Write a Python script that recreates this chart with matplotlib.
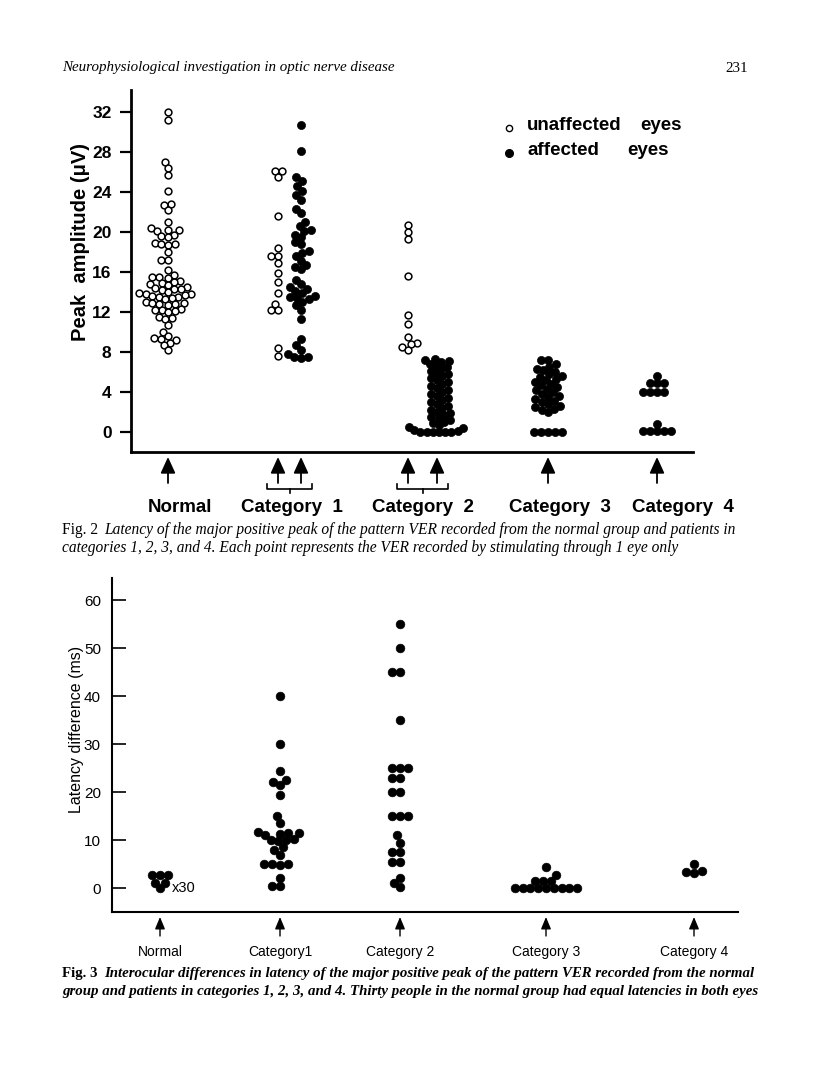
import numpy as np
import matplotlib
matplotlib.use("Agg")
import matplotlib.pyplot as plt
from matplotlib import transforms
from matplotlib.lines import Line2D

# ---------------- data ----------------
# Fig. 2 : peak amplitude (uV)
normal_unaff = [32.0, 31.2, 27.0, 26.4, 25.7, 24.1, 22.8, 22.7, 22.2, 21.0,
                20.4, 20.2, 20.1, 20.2, 19.7, 19.6, 19.5, 18.9, 18.8, 18.8,
                18.7, 18.0, 17.2, 17.2, 16.2, 15.7, 15.5, 15.5, 15.4, 15.1,
                15.0, 14.9, 14.8, 14.7, 14.5, 14.4, 14.3, 14.3, 14.2, 14.0,
                13.9, 13.8, 13.8, 13.7, 13.6, 13.5, 13.5, 13.4, 13.3, 13.0,
                12.9, 12.9, 12.8, 12.8, 12.7, 12.3, 12.2, 12.2, 12.1, 12.0,
                11.5, 11.4, 11.3, 10.7, 10.0, 9.6, 9.4, 9.3, 9.2, 8.9, 8.7, 8.2]
cat1_unaff = [26.1, 26.1, 25.5, 21.6, 18.4, 17.6, 17.6, 16.9, 15.9, 15.0,
              13.9, 12.8, 12.2, 12.2, 8.4, 7.6]
cat1_aff = [30.7, 28.1, 25.5, 25.1, 24.6, 24.1, 23.7, 23.2, 22.3, 21.9,
            21.0, 20.6, 20.2, 20.1, 19.7, 19.5, 19.0, 18.8, 18.1, 17.9,
            17.6, 17.1, 16.7, 16.5, 16.3, 15.2, 14.8, 14.5, 14.3, 14.1,
            13.9, 13.6, 13.5, 13.4, 13.3, 13.0, 12.7, 12.2, 11.3, 9.3,
            8.7, 8.2, 7.8, 7.5, 7.4, 7.5]
cat2_unaff = [20.7, 20.0, 19.3, 15.6, 11.7, 10.8, 9.5, 8.9, 8.8, 8.5, 8.2]
cat2_aff = [7.3, 7.2, 7.1, 7.0, 6.8, 6.6, 6.5, 6.3, 6.1, 5.9, 5.8, 5.6, 5.4,
            5.2, 5.0, 4.8, 4.6, 4.4, 4.2, 4.0, 3.8, 3.6, 3.4, 3.2, 3.0, 2.8,
            2.6, 2.4, 2.2, 2.0, 1.9, 1.7, 1.5, 1.4, 1.2, 1.0, 0.9, 0.7, 0.5,
            0.4, 0.2, 0.1, 0.0, 0.0, 0.0, 0.0, 0.0, 0.0]
cat3_aff = [7.2, 7.2, 6.8, 6.5, 6.3, 6.2, 6.0, 5.8, 5.6, 5.5, 5.3, 5.2, 5.0,
            4.8, 4.7, 4.5, 4.3, 4.2, 4.0, 3.8, 3.6, 3.5, 3.3, 3.1, 3.0, 2.8,
            2.6, 2.5, 2.3, 2.2, 2.0, 0.0, 0.0, 0.0, 0.0, 0.0]
cat4_aff = [5.6, 4.9, 4.9, 4.9, 4.0, 4.0, 4.0, 4.0, 0.8, 0.1, 0.1, 0.1, 0.1, 0.1]

amp_ticks = [0, 4, 8, 12, 16, 20, 24, 28, 32]
group_labels_top = ["Normal", "Category  1", "Category  2", "Category  3", "Category  4"]

# Fig. 3 : interocular latency difference (ms)
lat_normal = [2.8, 2.8, 2.8, 1.2, 1.2, 0.0]
lat_cat1 = [40, 30, 24.5, 22.5, 22.2, 21.6, 19.5, 15.0, 13.5, 11.8, 11.6,
            11.5, 11.4, 11.2, 10.3, 10.0, 10.0, 9.8, 8.5, 8.0, 7.0, 5.0, 5.0,
            5.0, 4.8, 2.2, 0.5, 0.5]
lat_cat2 = [55, 50, 45, 45, 35, 25, 25, 25, 23, 23, 20, 20, 15, 15, 15, 11,
            9.5, 7.5, 7.5, 5.5, 5.5, 2.2, 1.2, 0.2]
lat_cat3 = [4.5, 2.8, 1.6, 1.6, 1.5, 0, 0, 0, 0, 0, 0, 0, 0, 0]
lat_cat4 = [5.0, 3.6, 3.3, 3.2]
lat_ticks = [0, 10, 20, 30, 40, 50, 60]
group_labels_bot = ["Normal", "Category1", "Category 2", "Category 3", "Category 4"]

# ---------------- layout helpers ----------------
W, H = 816, 1091
fig = plt.figure(figsize=(W / 100, H / 100), dpi=100)


def fx(px):
    return px / W


def fy(py):
    return 1 - py / H


def swarm(values, px_per_unit, diam, overlap=0.92):
    ys = np.asarray(values, float) * px_per_unit
    order = np.argsort(ys, kind="stable")
    placed = []
    offs = np.zeros(len(ys))
    D = diam * overlap
    for i in order:
        y = ys[i]
        near = [(px, py) for px, py in placed if abs(py - y) < D]
        cands = [0.0]
        for px, py in near:
            dx = np.sqrt(max(D * D - (py - y) ** 2, 0))
            cands += [px + dx, px - dx]
        cands = sorted(cands, key=lambda c: (abs(c), c))
        chosen = cands[-1]
        for c in cands:
            if all((c - px) ** 2 + (y - py) ** 2 >= D * D - 1e-6 for px, py in near):
                chosen = c
                break
        offs[i] = chosen
        placed.append((chosen, y))
    return offs


sans = ["Liberation Sans", "DejaVu Sans"]
serif = ["Liberation Serif", "DejaVu Serif"]

# header
fig.text(fx(62), fy(68), "Neurophysiological investigation in optic nerve disease",
         family=serif, style="italic", fontsize=10.8, va="center", ha="left")
fig.text(fx(748), fy(68), "231", family=serif, fontsize=10.8, va="center", ha="right")

# ================= Fig. 2 =================
L1, R1, T1, B1 = 131, 693, 90, 452
ax1 = fig.add_axes([fx(L1), fy(B1), fx(R1) - fx(L1), fy(T1) - fy(B1)])
ymin1, ymax1 = -1.97, 34.23
ax1.set_xlim(0, R1 - L1)
ax1.set_ylim(ymin1, ymax1)
ppu1 = (B1 - T1) / (ymax1 - ymin1)

top_groups = [
    (normal_unaff, 37, "open", 0.92),
    (cat1_unaff, 147, "open", 0.92),
    (cat1_aff, 170, "filled", 0.85),
    (cat2_unaff, 277, "open", 0.92),
    (cat2_aff, 308, "filled", 0.78),
    (cat3_aff, 417, "filled", 0.85),
    (cat4_aff, 526, "filled", 0.85),
]
for vals, xc, kind, ov in top_groups:
    if kind == "open":
        offs = swarm(vals, ppu1, 7.2, overlap=ov)
        ax1.scatter(xc + offs, vals, s=24, facecolor="white", edgecolor="black",
                    linewidths=1.1, zorder=3, clip_on=False)
    else:
        offs = swarm(vals, ppu1, 8.0, overlap=ov)
        ax1.scatter(xc + offs, vals, s=34, facecolor="black", edgecolor="black",
                    linewidths=0.5, zorder=3, clip_on=False)

ax1.set_yticks(amp_ticks)
ax1.set_yticklabels([str(t) for t in amp_ticks], family=sans, fontweight="bold", fontsize=12.5)
ax1.set_xticks([])
ax1.tick_params(axis="y", direction="out", length=8, width=1.6, pad=6)
for s in ["top", "right"]:
    ax1.spines[s].set_visible(False)
for s in ["left", "bottom"]:
    ax1.spines[s].set_linewidth(2.0)
fig.text(fx(80), fy(242), "Peak  amplitude (μV)", rotation=90, family=sans,
         fontweight="bold", fontsize=14.5, ha="center", va="center")

# legend
fig.add_artist(Line2D([fx(509)], [fy(128)], marker="o", markersize=4.5, mfc="white",
                      mec="black", mew=1.0, ls="none"))
fig.add_artist(Line2D([fx(509)], [fy(153)], marker="o", markersize=5.5, mfc="black",
                      mec="black", ls="none"))
fig.text(fx(527), fy(126), "unaffected", family=sans, fontweight="bold", fontsize=13.5,
         ha="left", va="center")
fig.text(fx(640), fy(126), "eyes", family=sans, fontweight="bold", fontsize=13.5,
         ha="left", va="center")
fig.text(fx(527), fy(150), "affected", family=sans, fontweight="bold", fontsize=13.5,
         ha="left", va="center")
fig.text(fx(627), fy(150), "eyes", family=sans, fontweight="bold", fontsize=13.5,
         ha="left", va="center")

# arrows below axis
tr1 = transforms.blended_transform_factory(ax1.transData, fig.transFigure)
arrow_x_top = [37, 147, 170, 277, 306, 417, 526]
for xc in arrow_x_top:
    ax1.annotate("", xy=(xc, fy(457)), xytext=(xc, fy(483)), xycoords=tr1, textcoords=tr1,
                 arrowprops=dict(arrowstyle="-|>,head_length=0.7,head_width=0.32",
                                 lw=1.3, color="black", shrinkA=0, shrinkB=0,
                                 mutation_scale=14), annotation_clip=False)
for xa, xb in [(147, 170), (277, 306)]:
    x0, x1 = xa - 11, xb + 11
    xm = (x0 + x1) / 2
    ax1.add_line(Line2D([x0, x0, x1, x1], [fy(484), fy(489), fy(489), fy(484)],
                        transform=tr1, color="black", lw=1.2, clip_on=False))
    ax1.add_line(Line2D([xm, xm], [fy(489), fy(493)], transform=tr1, color="black",
                        lw=1.2, clip_on=False))

for lab, px in zip(group_labels_top, [180, 292, 423, 560, 683]):
    fig.text(fx(px), fy(507), lab, family=sans, fontweight="bold", fontsize=13.5,
             ha="center", va="center")

# caption fig 2
fig.text(fx(62), fy(530), "Fig. 2", family=serif, fontsize=11.2, ha="left", va="center")
fig.text(fx(104), fy(530),
         "Latency of the major positive peak of the pattern VER recorded from the normal group and patients in",
         family=serif, style="italic", fontsize=11.2, ha="left", va="center")
fig.text(fx(62), fy(548),
         "categories 1, 2, 3, and 4. Each point represents the VER recorded by stimulating through 1 eye only",
         family=serif, style="italic", fontsize=11.2, ha="left", va="center")

# ================= Fig. 3 =================
L2, R2, T2, B2 = 112, 738, 578, 912
ax2 = fig.add_axes([fx(L2), fy(B2), fx(R2) - fx(L2), fy(T2) - fy(B2)])
ymin2, ymax2 = -4.93, 64.6
ax2.set_xlim(0, R2 - L2)
ax2.set_ylim(ymin2, ymax2)
ppu2 = (B2 - T2) / (ymax2 - ymin2)

bot_groups = [(lat_normal, 48), (lat_cat1, 168), (lat_cat2, 288), (lat_cat3, 434),
              (lat_cat4, 582)]
for vals, xc in bot_groups:
    offs = swarm(vals, ppu2, 8.2, overlap=0.95)
    ax2.scatter(xc + offs, vals, s=40, facecolor="black", edgecolor="black",
                linewidths=0.4, zorder=3, clip_on=False)
ax2.text(60, 0, "x30", family=sans, fontsize=10.5, ha="left", va="center")

ax2.set_yticks(lat_ticks)
ax2.set_yticklabels([str(t) for t in lat_ticks], family=sans, fontsize=11)
ax2.set_xticks([])
ax2.tick_params(axis="y", direction="in", length=10, width=1.2, pad=8)
for s in ["top", "right"]:
    ax2.spines[s].set_visible(False)
for s in ["left", "bottom"]:
    ax2.spines[s].set_linewidth(1.5)
fig.text(fx(77), fy(729), "Latency difference (ms)", rotation=90, family=sans,
         fontsize=11.5, ha="center", va="center")

tr2 = transforms.blended_transform_factory(ax2.transData, fig.transFigure)
for _, xc in bot_groups:
    ax2.annotate("", xy=(xc, fy(917)), xytext=(xc, fy(936)), xycoords=tr2, textcoords=tr2,
                 arrowprops=dict(arrowstyle="-|>,head_length=0.6,head_width=0.25",
                                 lw=1.0, color="black", shrinkA=0, shrinkB=0,
                                 mutation_scale=12), annotation_clip=False)
for lab, (_, xc) in zip(group_labels_bot, bot_groups):
    ax2.text(xc, fy(952), lab, transform=tr2, family=sans, fontsize=10,
             ha="center", va="center")

fig.text(fx(62), fy(973), "Fig. 3", family=serif, fontweight="bold", fontsize=10.7,
         ha="left", va="center")
fig.text(fx(104), fy(973),
         "Interocular differences in latency of the major positive peak of the pattern VER recorded from the normal",
         family=serif, style="italic", fontweight="bold", fontsize=10.7, ha="left", va="center")
fig.text(fx(62), fy(991),
         "group and patients in categories 1, 2, 3, and 4. Thirty people in the normal group had equal latencies in both eyes",
         family=serif, style="italic", fontweight="bold", fontsize=10.7, ha="left", va="center")

fig.savefig("out.png", dpi=100)
